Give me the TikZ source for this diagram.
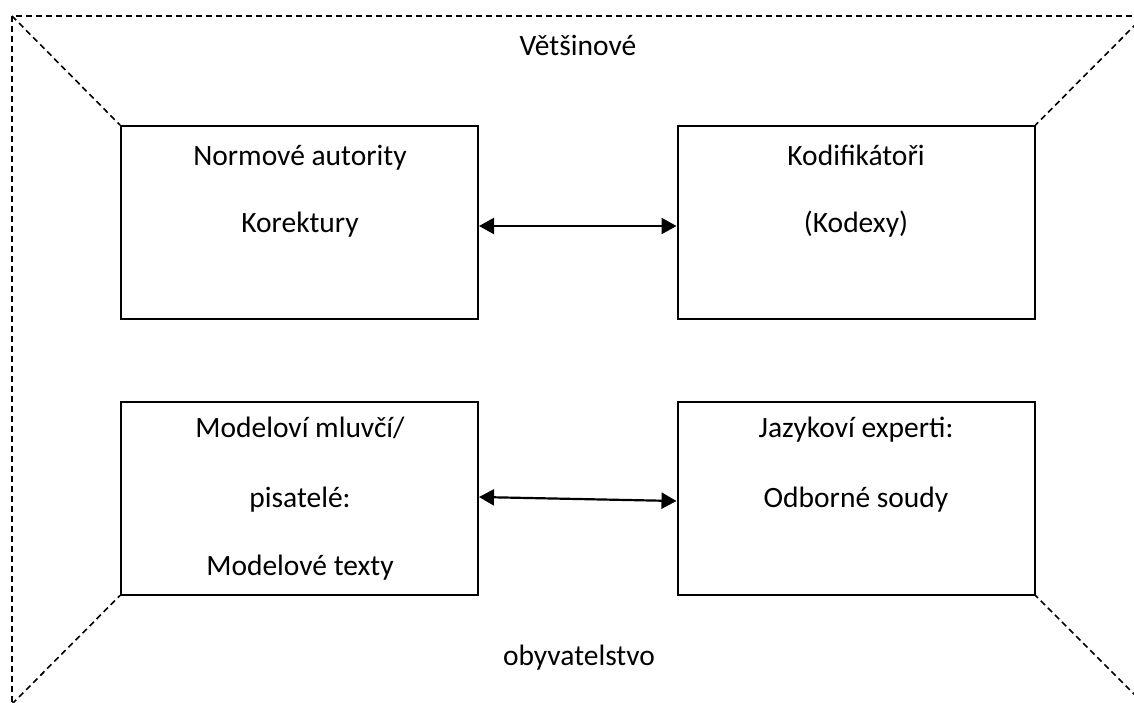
\documentclass[tikz,border=0pt]{standalone}
\usepackage{fontspec}
\setmainfont{Carlito}
\usetikzlibrary{arrows.meta}

\tikzset{
  box/.style={draw,line width=2pt,minimum width=357pt,minimum height=193pt,inner sep=0pt},
  txt/.style={anchor=base,inner sep=0pt,font=\fontsize{29.5}{35}\selectfont},
  frame/.style={line width=1.6pt,dash pattern=on 6pt off 4pt},
  link/.style={line width=2.2pt,{Triangle[length=15pt,width=16pt]}-{Triangle[length=15pt,width=16pt]}}
}

\begin{document}
\begin{tikzpicture}[x=1pt,y=-1pt]
  \useasboundingbox (0,0) rectangle (1134,702);
  \clip (0,0) rectangle (1134,702);
  % outer frame
  \draw[frame] (12,16) rectangle (1144,704);
  \node[txt] (vet) at (578,55) {Většinové};
  \node[txt] (oby) at (579,665) {obyvatelstvo};
  % boxes
  \node[box] (norm) at (299.5,222.5) {};
  \node[box] (kod) at (856,222.5) {};
  \node[box] (mod) at (299.5,498) {};
  \node[box] (jaz) at (856,498) {};
  \node[txt] (norm1) at (300,165) {Normové autority};
  \node[txt] (norm2) at (300,232) {Korektury};
  \node[txt] (kod1) at (856,165) {Kodifikátoři};
  \node[txt] (kod2) at (856,232) {(Kodexy)};
  \node[txt] (mod1) at (300,437) {Modeloví mluvčí/};
  \node[txt] (mod2) at (300,507) {pisatelé:};
  \node[txt] (mod3) at (300,575) {Modelové texty};
  \node[txt] (jaz1) at (856,437) {Jazykoví experti:};
  \node[txt] (jaz2) at (856,507) {Odborné soudy};
  % corners
  \draw[frame] (12,16) -- (norm.north west);
  \draw[frame] (1144,16) -- (kod.north east);
  \draw[frame] (12,704) -- (mod.south west);
  \draw[frame] (1144,704) -- (jaz.south east);
  % links
  \draw[link] ([yshift=-3.5pt]norm.east) -- ([yshift=-3.5pt]kod.west);
  \draw[link] ([yshift=1pt]mod.east) -- ([yshift=-3pt]jaz.west);
\end{tikzpicture}
\end{document}
